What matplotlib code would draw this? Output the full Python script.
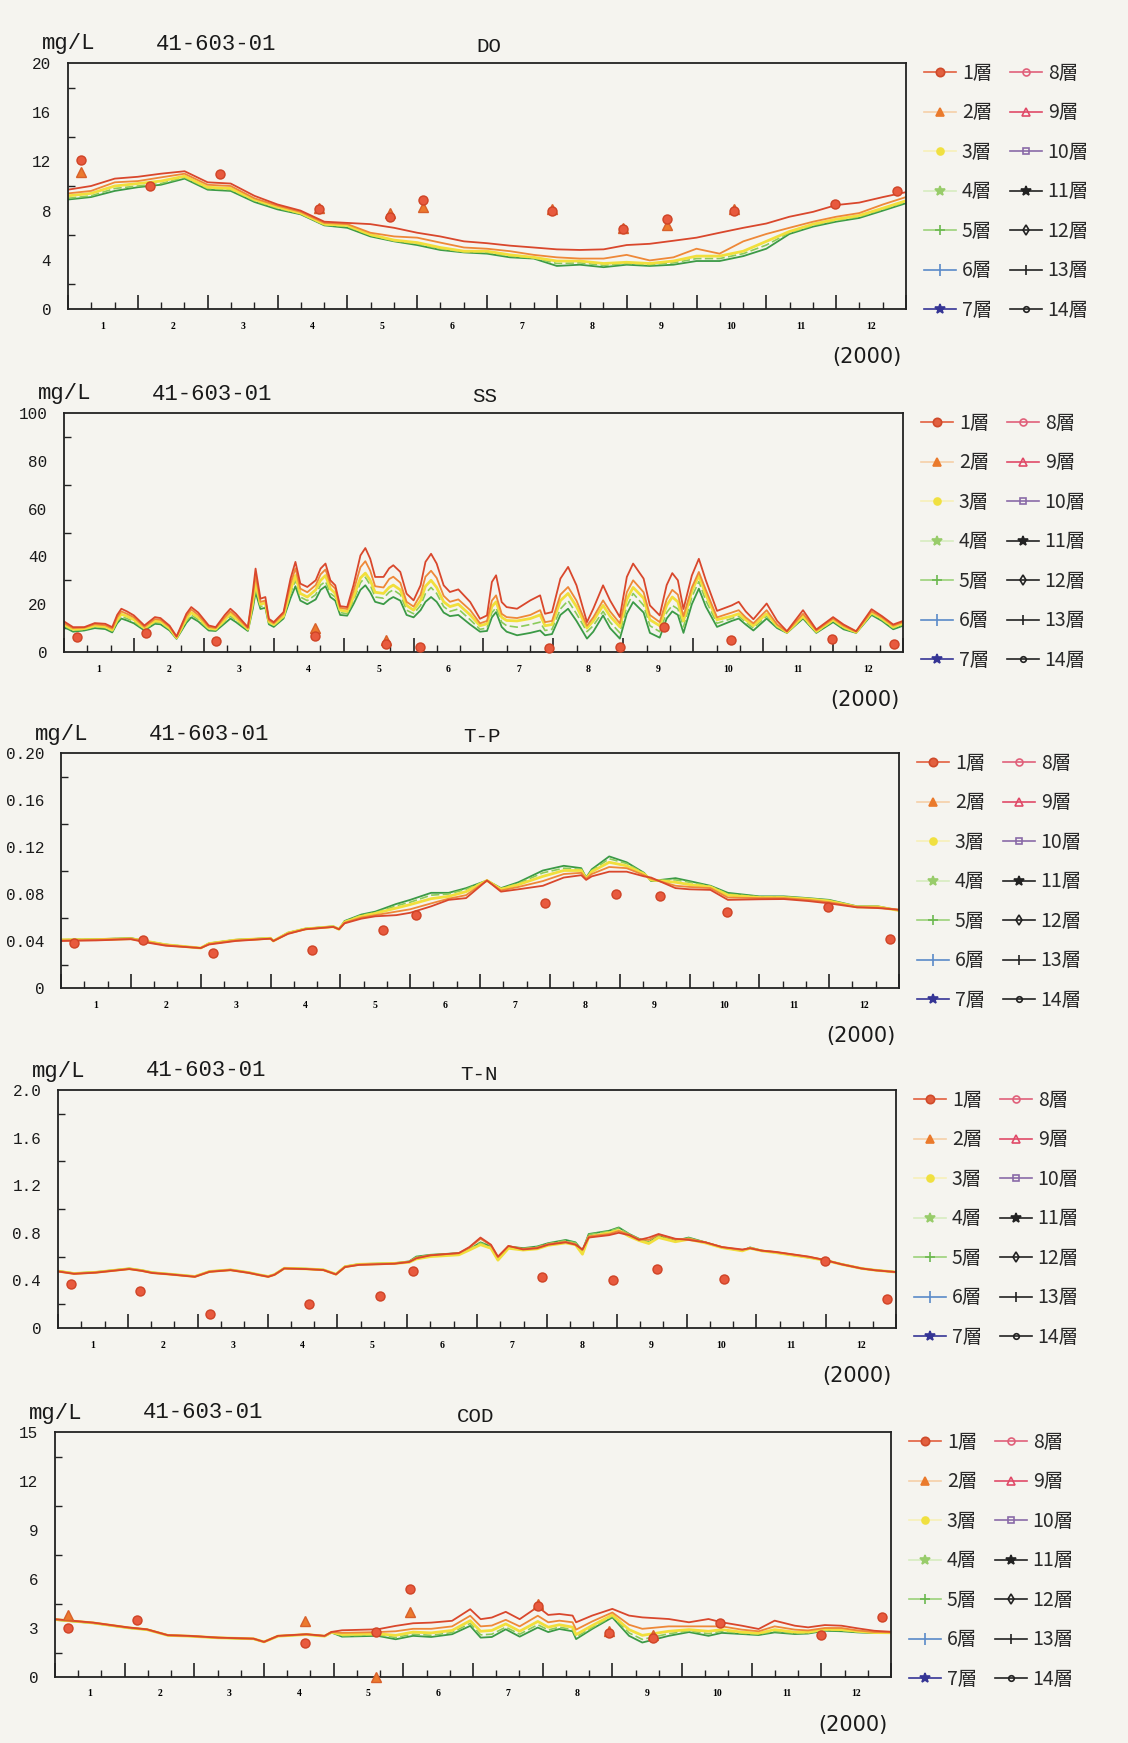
import numpy as np
import matplotlib
matplotlib.use('Agg')
import matplotlib.pyplot as plt
from matplotlib.lines import Line2D
from matplotlib.ticker import FixedLocator

nan = np.nan

MONTHS = [str(m) for m in range(1, 13)]
LAYERS = [f'{i}層' for i in range(1, 15)]
STATION = '41-603-01'

# sampling dates of the observations (month units, 0 = 1 Jan, 12 = 31 Dec)
OBS_X = [0.18, 1.17, 2.17, 3.59, 4.61, 5.09, 6.93, 7.95, 8.58, 9.54, 10.99, 11.87]

# ---- DO ----
DO_X = [0, 0.33, 0.67, 1.0, 1.33, 1.67, 2.0, 2.33, 2.67, 3.0, 3.33, 3.67, 4.0, 4.33,
        4.67, 5.0, 5.33, 5.67, 6.0, 6.33, 6.67, 7.0, 7.33, 7.67, 8.0, 8.33, 8.67, 9.0,
        9.33, 9.67, 10.0, 10.33, 10.67, 11.0, 11.33, 11.67, 12.0]
DO_L1 = [9.7, 10.0, 10.6, 10.75, 11.0, 11.2, 10.3, 10.2, 9.2, 8.5, 8.0, 7.1, 7.0, 6.9,
         6.6, 6.2, 5.9, 5.5, 5.35, 5.15, 5.0, 4.85, 4.8, 4.85, 5.2, 5.3, 5.55, 5.8,
         6.2, 6.6, 6.95, 7.5, 7.9, 8.45, 8.65, 9.1, 9.5]
DO_L2 = [9.4, 9.6, 10.3, 10.4, 10.7, 11.0, 10.1, 10.0, 9.0, 8.4, 7.9, 7.0, 6.9, 6.2,
         5.9, 5.8, 5.4, 5.0, 4.9, 4.7, 4.4, 4.2, 4.1, 4.1, 4.4, 3.95, 4.2, 4.9,
         4.5, 5.5, 6.1, 6.6, 7.1, 7.5, 7.8, 8.5, 9.1]
DO_L3 = [9.2, 9.4, 10.0, 10.2, 10.4, 10.8, 9.9, 9.8, 8.9, 8.3, 7.8, 6.9, 6.8, 6.05,
         5.6, 5.4, 5.0, 4.7, 4.7, 4.4, 4.2, 3.9, 3.9, 3.7, 3.8, 3.7, 3.9, 4.3,
         4.3, 4.7, 5.5, 6.3, 6.9, 7.3, 7.6, 8.2, 8.8]
DO_L4 = [9.0, 9.2, 9.8, 10.0, 10.2, 10.7, 9.8, 9.7, 8.8, 8.2, 7.75, 6.85, 6.7, 6.0,
         5.55, 5.3, 4.9, 4.65, 4.6, 4.3, 4.15, 3.7, 3.75, 3.55, 3.7, 3.6, 3.75, 4.1,
         4.1, 4.5, 5.2, 6.2, 6.8, 7.2, 7.5, 8.1, 8.7]
DO_L5 = [8.9, 9.1, 9.6, 9.9, 10.1, 10.6, 9.7, 9.6, 8.7, 8.1, 7.7, 6.8, 6.6, 5.9,
         5.5, 5.2, 4.8, 4.6, 4.5, 4.2, 4.1, 3.5, 3.6, 3.4, 3.6, 3.5, 3.6, 3.9,
         3.9, 4.3, 4.9, 6.1, 6.7, 7.1, 7.4, 8.0, 8.6]
DO_OBS1 = [12.1, 10.0, 11.0, 8.1, 7.5, 8.9, 8.0, 6.5, 7.3, 8.0, 8.5, 9.6]
DO_OBS2 = [11.1, nan, nan, 8.2, 7.8, 8.3, 8.1, 6.6, 6.8, 8.1, nan, nan]
DO_YTICKS = ['0', '4', '8', '12', '16', '20']

# ---- SS ----
SS_X = [0.00, 0.13, 0.29, 0.44, 0.59, 0.69, 0.76, 0.82, 0.90, 1.00,
        1.15, 1.30, 1.38, 1.51, 1.61, 1.75, 1.82, 1.92, 2.07, 2.17,
        2.30, 2.38, 2.46, 2.55, 2.63, 2.70, 2.74, 2.81, 2.88, 2.93,
        3.00, 3.14, 3.24, 3.31, 3.38, 3.48, 3.60, 3.67, 3.74, 3.81,
        3.88, 3.95, 4.05, 4.14, 4.24, 4.31, 4.38, 4.45, 4.57, 4.65,
        4.71, 4.81, 4.90, 5.00, 5.10, 5.17, 5.25, 5.33, 5.43, 5.52,
        5.64, 5.81, 5.95, 6.05, 6.12, 6.18, 6.26, 6.33, 6.48, 6.67,
        6.81, 6.88, 6.98, 7.10, 7.21, 7.33, 7.48, 7.57, 7.71, 7.81,
        7.95, 8.05, 8.14, 8.29, 8.38, 8.52, 8.62, 8.70, 8.78, 8.86,
        8.98, 9.08, 9.18, 9.34, 9.55, 9.65, 9.75, 9.86, 10.05, 10.20,
        10.34, 10.57, 10.76, 11.00, 11.15, 11.33, 11.55, 11.70, 11.86, 12.00]
SS_L1 = [12.8, 10.4, 10.4, 12.1, 11.8, 10.4, 15.5, 18.1, 17.0, 15.3,
         11.1, 14.6, 14.2, 11.0, 6.5, 16.0, 18.8, 16.5, 11.1, 10.4,
         15.5, 18.1, 16.0, 13.0, 10.4, 25.0, 34.9, 22.3, 23.0, 13.9,
         12.5, 16.7, 30.7, 37.7, 28.6, 27.2, 30.0, 34.9, 37.0, 30.0,
         27.9, 19.2, 18.8, 27.9, 40.4, 43.5, 39.0, 31.4, 31.4, 35.0,
         36.3, 33.5, 24.4, 21.6, 27.9, 37.7, 41.1, 37.0, 27.9, 25.1,
         26.2, 20.9, 13.9, 15.3, 29.3, 32.1, 20.9, 18.8, 18.1, 21.6,
         23.7, 16.0, 16.7, 30.7, 35.6, 27.9, 12.5, 18.1, 27.9, 21.6,
         14.6, 31.4, 37.0, 30.7, 19.5, 15.3, 28.0, 33.0, 30.0, 18.0,
         32.0, 39.0, 30.0, 17.2, 19.5, 21.0, 17.0, 13.7, 20.3, 13.0,
         8.7, 17.5, 9.4, 14.6, 11.5, 8.7, 17.9, 15.0, 11.5, 13.0]
SS_L2 = [12.0, 10.0, 10.2, 11.6, 11.2, 9.8, 14.5, 17.0, 16.0, 14.5,
         10.5, 13.8, 13.5, 10.5, 6.3, 15.0, 17.8, 15.5, 10.5, 10.0,
         14.5, 17.0, 15.0, 12.3, 10.0, 23.0, 32.0, 21.0, 21.5, 13.3,
         12.0, 16.0, 28.5, 35.0, 26.5, 25.0, 28.0, 32.5, 34.5, 28.5,
         26.5, 18.5, 18.0, 25.5, 35.5, 38.0, 34.0, 27.5, 27.0, 30.5,
         31.5, 29.0, 21.0, 19.0, 24.0, 31.5, 34.0, 31.0, 23.5, 21.0,
         22.0, 17.5, 12.0, 13.0, 21.5, 23.7, 16.0, 14.6, 14.2, 15.5,
         17.5, 12.5, 13.0, 24.0, 27.2, 21.5, 11.0, 14.5, 21.6, 17.0,
         12.0, 25.0, 30.0, 25.0, 15.5, 12.5, 22.0, 26.0, 24.0, 15.0,
         27.0, 33.5, 26.0, 14.5, 16.5, 17.5, 14.5, 12.0, 17.5, 11.5,
         8.5, 16.0, 9.0, 14.0, 11.0, 8.5, 17.0, 14.5, 11.0, 12.5]
SS_L3 = [11.5, 9.5, 9.8, 11.0, 10.6, 9.2, 13.5, 15.8, 15.0, 13.5,
         10.0, 13.0, 12.8, 10.0, 6.0, 14.0, 16.5, 14.5, 10.0, 9.6,
         13.5, 16.0, 14.0, 11.8, 9.6, 21.0, 29.0, 20.0, 20.5, 12.8,
         11.5, 15.0, 26.0, 32.0, 24.5, 23.0, 26.0, 30.0, 32.0, 26.5,
         24.5, 17.5, 17.0, 23.0, 31.0, 33.0, 30.0, 25.0, 24.5, 27.0,
         28.0, 26.0, 19.5, 17.5, 21.5, 27.5, 30.0, 27.0, 21.0, 19.0,
         20.0, 15.5, 11.0, 11.8, 19.0, 21.0, 14.5, 13.2, 13.0, 14.0,
         15.5, 11.0, 11.5, 21.5, 24.5, 19.0, 10.0, 13.0, 19.5, 15.0,
         10.5, 22.0, 27.0, 22.5, 13.5, 11.0, 19.5, 23.0, 21.0, 13.0,
         25.5, 32.0, 24.0, 13.5, 15.0, 16.0, 13.5, 11.0, 16.0, 11.0,
         8.3, 15.0, 8.6, 13.5, 10.5, 8.3, 16.5, 14.0, 10.5, 12.0]
SS_L4 = [11.0, 9.0, 9.4, 10.6, 10.2, 8.8, 12.8, 14.8, 14.0, 12.8,
         9.4, 12.4, 12.2, 9.5, 5.8, 13.0, 15.5, 13.5, 9.5, 9.2,
         12.8, 15.0, 13.2, 11.2, 9.2, 19.5, 27.0, 19.0, 19.5, 12.2,
         11.0, 14.5, 24.5, 30.0, 23.0, 21.5, 24.0, 28.0, 29.5, 24.5,
         23.0, 16.5, 16.0, 21.5, 29.0, 31.3, 28.0, 23.0, 22.5, 25.0,
         26.0, 24.0, 17.5, 16.0, 19.5, 24.5, 27.0, 24.5, 19.0, 17.0,
         18.0, 13.5, 9.5, 10.0, 16.5, 18.5, 12.5, 11.0, 10.4, 11.5,
         12.5, 9.0, 9.5, 18.0, 21.5, 16.0, 8.5, 11.0, 17.0, 12.5,
         8.0, 19.0, 24.5, 19.5, 11.0, 8.5, 16.5, 19.5, 18.0, 10.5,
         23.0, 29.5, 21.5, 12.0, 14.0, 15.0, 12.5, 10.0, 15.0, 10.5,
         8.1, 14.5, 8.3, 13.0, 10.0, 8.1, 16.0, 13.5, 10.0, 11.5]
SS_L5 = [10.5, 8.5, 9.0, 10.0, 9.6, 8.2, 12.0, 14.0, 13.2, 12.0,
         9.0, 11.8, 11.6, 9.0, 5.5, 12.2, 14.5, 12.8, 9.0, 8.8,
         12.0, 14.0, 12.5, 10.5, 8.8, 18.0, 25.0, 18.0, 18.5, 11.6,
         10.5, 14.0, 22.5, 27.5, 21.5, 20.0, 22.0, 26.0, 27.5, 23.0,
         21.5, 15.5, 15.2, 20.0, 26.0, 27.9, 25.0, 21.0, 20.0, 22.0,
         23.0, 21.5, 15.5, 14.5, 17.5, 21.0, 23.0, 21.0, 16.5, 15.0,
         15.5, 11.5, 8.5, 8.8, 14.5, 16.7, 10.5, 8.5, 7.0, 8.0,
         9.0, 7.0, 7.5, 15.5, 18.1, 13.0, 5.6, 8.5, 15.3, 10.0,
         5.6, 16.0, 20.9, 16.5, 8.0, 6.0, 14.0, 17.0, 15.5, 8.0,
         20.0, 26.5, 19.0, 10.5, 13.0, 14.0, 11.5, 9.0, 14.0, 10.0,
         8.0, 14.0, 8.0, 12.5, 9.5, 8.0, 15.5, 13.0, 9.5, 11.0]
SS_OBS1 = [6.2, 7.9, 4.6, 6.5, 3.2, 2.2, 1.8, 2.0, 10.5, 5.0, 5.5, 3.5]
SS_OBS2 = [nan, nan, nan, 10.0, 4.9, nan, nan, nan, nan, nan, nan, nan]
SS_YTICKS = ['0', '20', '40', '60', '80', '100']

# ---- T-P ----
TP_X = [0, 0.5, 1.0, 1.2, 1.5, 2.0, 2.12, 2.5, 3.0, 3.04, 3.25, 3.5, 3.9, 3.98, 4.06,
        4.3, 4.5, 4.8, 5.0, 5.3, 5.55, 5.8, 6.1, 6.3, 6.55, 6.9, 7.2, 7.45, 7.52, 7.6,
        7.85, 8.1, 8.35, 8.45, 8.8, 9.0, 9.3, 9.55, 10.0, 10.35, 10.7, 11.0, 11.4,
        11.7, 12.0]
TP_L1 = [0.040, 0.0405, 0.0415, 0.039, 0.036, 0.034, 0.037, 0.040, 0.042, 0.040,
         0.046, 0.050, 0.052, 0.050, 0.055, 0.059, 0.061, 0.062, 0.064, 0.0695,
         0.075, 0.0765, 0.0915, 0.082, 0.084, 0.087, 0.094, 0.096, 0.092, 0.095,
         0.099, 0.099, 0.095, 0.094, 0.085, 0.084, 0.0835, 0.075, 0.0755, 0.0757,
         0.074, 0.072, 0.0686, 0.068, 0.0666]
TP_L2 = [0.0405, 0.041, 0.042, 0.0395, 0.0365, 0.034, 0.0375, 0.0405, 0.042, 0.040,
         0.0465, 0.050, 0.052, 0.050, 0.0555, 0.060, 0.062, 0.065, 0.067, 0.072,
         0.076, 0.079, 0.0915, 0.083, 0.086, 0.091, 0.097, 0.098, 0.093, 0.097,
         0.103, 0.102, 0.096, 0.093, 0.087, 0.086, 0.085, 0.077, 0.0765, 0.0765,
         0.075, 0.073, 0.069, 0.0685, 0.0666]
TP_L3 = [0.041, 0.0412, 0.042, 0.040, 0.0368, 0.034, 0.0378, 0.0408, 0.0423, 0.040,
         0.0468, 0.0503, 0.0522, 0.050, 0.056, 0.061, 0.0635, 0.068, 0.071, 0.076,
         0.078, 0.082, 0.0915, 0.084, 0.088, 0.095, 0.100, 0.100, 0.093, 0.099,
         0.107, 0.104, 0.097, 0.092, 0.090, 0.088, 0.086, 0.079, 0.077, 0.077,
         0.0757, 0.074, 0.069, 0.069, 0.066]
TP_L4 = [0.041, 0.0415, 0.0423, 0.040, 0.037, 0.034, 0.038, 0.041, 0.0425, 0.040,
         0.047, 0.0505, 0.0524, 0.050, 0.0565, 0.062, 0.064, 0.070, 0.073, 0.079,
         0.080, 0.084, 0.0915, 0.0845, 0.089, 0.098, 0.102, 0.101, 0.094, 0.100,
         0.110, 0.106, 0.0975, 0.0915, 0.092, 0.090, 0.0865, 0.080, 0.0775, 0.0775,
         0.076, 0.0745, 0.0692, 0.0692, 0.066]
TP_L5 = [0.041, 0.0415, 0.0425, 0.040, 0.037, 0.034, 0.038, 0.041, 0.0425, 0.040,
         0.047, 0.0505, 0.0525, 0.050, 0.057, 0.0625, 0.065, 0.0715, 0.075, 0.081,
         0.081, 0.085, 0.0915, 0.085, 0.090, 0.100, 0.104, 0.102, 0.094, 0.101,
         0.112, 0.107, 0.098, 0.091, 0.0935, 0.091, 0.087, 0.081, 0.078, 0.078,
         0.0765, 0.075, 0.0695, 0.0695, 0.066]
TP_OBS1 = [0.038, 0.041, 0.0295, 0.032, 0.049, 0.062, 0.072, 0.080, 0.078, 0.065, 0.069, 0.042]
TP_OBS2 = [nan] * 12
TP_YTICKS = ['0', '0.04', '0.08', '0.12', '0.16', '0.20']

# ---- T-N ----
TN_X = [0, 0.23, 0.54, 1.02, 1.2, 1.35, 1.61, 1.96, 2.17, 2.47, 2.73, 2.88, 3.01, 3.1,
        3.24, 3.55, 3.8, 3.98, 4.11, 4.31, 4.82, 5.03, 5.13, 5.33, 5.74, 5.89, 6.05,
        6.2, 6.3, 6.45, 6.66, 6.86, 7.02, 7.27, 7.41, 7.51, 7.6, 7.89, 8.03, 8.18,
        8.32, 8.46, 8.6, 8.84, 9.03, 9.27, 9.51, 9.8, 9.91, 10.08, 10.27, 10.75,
        10.99, 11.22, 11.51, 11.7, 12.0]
TN_L1 = [0.475, 0.455, 0.465, 0.495, 0.48, 0.462, 0.45, 0.43, 0.472, 0.486,
         0.463, 0.445, 0.43, 0.447, 0.50, 0.495, 0.487, 0.45, 0.512, 0.53,
         0.54, 0.555, 0.585, 0.61, 0.63, 0.68, 0.76, 0.70, 0.60, 0.69,
         0.66, 0.67, 0.70, 0.72, 0.70, 0.66, 0.76, 0.78, 0.80, 0.78,
         0.74, 0.76, 0.79, 0.75, 0.74, 0.72, 0.68, 0.66, 0.67, 0.65,
         0.64, 0.60, 0.57, 0.535, 0.50, 0.485, 0.47]
TN_L2 = [0.477, 0.457, 0.467, 0.497, 0.482, 0.464, 0.451, 0.432, 0.474, 0.488,
         0.465, 0.446, 0.432, 0.448, 0.501, 0.496, 0.488, 0.451, 0.514, 0.533,
         0.542, 0.557, 0.59, 0.612, 0.628, 0.675, 0.75, 0.695, 0.595, 0.688,
         0.665, 0.675, 0.705, 0.725, 0.705, 0.655, 0.77, 0.79, 0.815, 0.785,
         0.745, 0.74, 0.785, 0.745, 0.75, 0.72, 0.68, 0.655, 0.672, 0.65,
         0.638, 0.597, 0.57, 0.536, 0.50, 0.486, 0.47]
TN_L3 = [0.478, 0.458, 0.468, 0.498, 0.483, 0.465, 0.452, 0.433, 0.475, 0.489,
         0.466, 0.447, 0.433, 0.449, 0.502, 0.497, 0.489, 0.452, 0.515, 0.535,
         0.543, 0.552, 0.58, 0.60, 0.615, 0.655, 0.70, 0.67, 0.57, 0.67,
         0.655, 0.665, 0.695, 0.715, 0.70, 0.62, 0.765, 0.80, 0.82, 0.77,
         0.735, 0.71, 0.76, 0.725, 0.745, 0.715, 0.675, 0.648, 0.67, 0.648,
         0.634, 0.593, 0.568, 0.535, 0.50, 0.486, 0.47]
TN_L4 = [0.479, 0.459, 0.469, 0.499, 0.484, 0.466, 0.452, 0.433, 0.475, 0.489,
         0.466, 0.447, 0.433, 0.449, 0.502, 0.497, 0.489, 0.452, 0.516, 0.536,
         0.544, 0.558, 0.595, 0.613, 0.627, 0.66, 0.715, 0.68, 0.585, 0.68,
         0.668, 0.68, 0.71, 0.735, 0.715, 0.645, 0.785, 0.812, 0.84, 0.788,
         0.748, 0.718, 0.77, 0.73, 0.757, 0.718, 0.676, 0.649, 0.675, 0.649,
         0.634, 0.592, 0.569, 0.536, 0.50, 0.486, 0.47]
TN_L5 = [0.48, 0.46, 0.47, 0.50, 0.485, 0.467, 0.453, 0.434, 0.476, 0.49,
         0.467, 0.448, 0.434, 0.45, 0.503, 0.498, 0.49, 0.453, 0.517, 0.537,
         0.545, 0.56, 0.60, 0.615, 0.629, 0.66, 0.72, 0.685, 0.59, 0.685,
         0.671, 0.685, 0.713, 0.74, 0.72, 0.65, 0.79, 0.817, 0.845, 0.79,
         0.75, 0.72, 0.775, 0.733, 0.76, 0.72, 0.677, 0.65, 0.677, 0.65,
         0.635, 0.593, 0.57, 0.537, 0.50, 0.487, 0.47]
TN_OBS1 = [0.37, 0.31, 0.12, 0.20, 0.27, 0.48, 0.43, 0.40, 0.50, 0.41, 0.56, 0.24]
TN_OBS2 = [nan] * 12
TN_YTICKS = ['0', '0.4', '0.8', '1.2', '1.6', '2.0']

# ---- COD ----
COD_X = [0, 0.55, 1.06, 1.32, 1.62, 1.93, 2.34, 2.85, 3.0, 3.2, 3.61, 3.87, 3.97, 4.12,
         4.63, 4.89, 5.14, 5.4, 5.7, 5.96, 6.11, 6.27, 6.47, 6.67, 6.93, 7.08, 7.24,
         7.43, 7.48, 7.71, 8.0, 8.24, 8.43, 8.81, 9.1, 9.38, 9.57, 9.86, 10.1, 10.33,
         10.62, 10.81, 11.05, 11.29, 11.52, 11.76, 12.0]
COD_L1 = [3.54, 3.33, 3.03, 2.92, 2.56, 2.52, 2.41, 2.35, 2.15, 2.52,
          2.62, 2.52, 2.76, 2.86, 2.92, 3.13, 3.29, 3.33, 3.44, 4.15,
          3.54, 3.64, 3.99, 3.54, 4.3, 3.8, 3.86, 3.76, 3.35, 3.76,
          4.17, 3.76, 3.65, 3.55, 3.35, 3.55, 3.35, 3.14, 2.94, 3.45,
          3.14, 3.04, 3.18, 3.14, 2.98, 2.83, 2.77]
COD_L2 = [3.53, 3.32, 3.02, 2.91, 2.56, 2.51, 2.41, 2.34, 2.15, 2.51,
          2.61, 2.51, 2.75, 2.7, 2.75, 2.8, 2.95, 2.95, 3.1, 3.75,
          3.1, 3.15, 3.5, 3.1, 3.75, 3.35, 3.45, 3.35, 2.9, 3.4,
          3.95, 3.2, 2.95, 3.1, 3.1, 3.1, 3.1, 2.9, 2.8, 3.1,
          2.9, 2.85, 3.0, 3.0, 2.85, 2.75, 2.74]
COD_L3 = [3.52, 3.31, 3.01, 2.9, 2.55, 2.5, 2.4, 2.34, 2.15, 2.5,
          2.6, 2.5, 2.74, 2.6, 2.65, 2.55, 2.75, 2.7, 2.85, 3.45,
          2.8, 2.85, 3.25, 2.8, 3.4, 3.05, 3.2, 3.05, 2.6, 3.15,
          3.8, 2.9, 2.55, 2.8, 2.9, 2.8, 2.9, 2.75, 2.68, 2.9,
          2.75, 2.75, 2.92, 2.9, 2.8, 2.72, 2.71]
COD_L4 = [3.51, 3.3, 3.0, 2.9, 2.55, 2.5, 2.4, 2.33, 2.15, 2.5,
          2.6, 2.5, 2.73, 2.52, 2.58, 2.42, 2.62, 2.55, 2.72, 3.28,
          2.58, 2.62, 3.05, 2.62, 3.2, 2.88, 3.05, 2.9, 2.45, 3.02,
          3.72, 2.7, 2.3, 2.65, 2.82, 2.65, 2.8, 2.68, 2.62, 2.8,
          2.68, 2.7, 2.87, 2.85, 2.76, 2.7, 2.7]
COD_L5 = [3.5, 3.3, 3.0, 2.9, 2.55, 2.5, 2.4, 2.33, 2.15, 2.5,
          2.6, 2.5, 2.72, 2.47, 2.52, 2.31, 2.52, 2.45, 2.62, 3.13,
          2.41, 2.45, 2.92, 2.47, 3.03, 2.75, 2.94, 2.8, 2.32, 2.94,
          3.65, 2.52, 2.11, 2.52, 2.75, 2.52, 2.7, 2.63, 2.57, 2.73,
          2.63, 2.66, 2.83, 2.8, 2.73, 2.69, 2.69]
COD_OBS1 = [3.0, 3.5, nan, 2.07, 2.78, 5.4, 4.35, 2.7, 2.4, 3.3, 2.55, 3.7]
COD_OBS2 = [3.8, nan, nan, 3.45, 0.0, 3.95, 4.5, 2.8, 2.6, nan, nan, nan]
COD_YTICKS = ['0', '3', '6', '9', '12', '15']

# ---- layout (pixels of the 1128 x 1743 page: left, right, top, bottom of each box) ----
W, H = 1128, 1743
PANELS = [
    dict(name='DO', x=DO_X, lines=[DO_L1, DO_L2, DO_L3, DO_L4, DO_L5],
         obs1=DO_OBS1, obs2=DO_OBS2, ymax=20, yticks=DO_YTICKS, box=(68, 906, 63, 309)),
    dict(name='SS', x=SS_X, lines=[SS_L1, SS_L2, SS_L3, SS_L4, SS_L5],
         obs1=SS_OBS1, obs2=SS_OBS2, ymax=100, yticks=SS_YTICKS, box=(64, 903, 413, 652)),
    dict(name='T-P', x=TP_X, lines=[TP_L1, TP_L2, TP_L3, TP_L4, TP_L5],
         obs1=TP_OBS1, obs2=TP_OBS2, ymax=0.2, yticks=TP_YTICKS, box=(61, 899, 753, 988)),
    dict(name='T-N', x=TN_X, lines=[TN_L1, TN_L2, TN_L3, TN_L4, TN_L5],
         obs1=TN_OBS1, obs2=TN_OBS2, ymax=2.0, yticks=TN_YTICKS, box=(58, 896, 1090, 1328)),
    dict(name='COD', x=COD_X, lines=[COD_L1, COD_L2, COD_L3, COD_L4, COD_L5],
         obs1=COD_OBS1, obs2=COD_OBS2, ymax=15, yticks=COD_YTICKS, box=(55, 891, 1432, 1677)),
]

LINE_COLORS = ['#d9472c', '#ee8838', '#f1df3c', '#8acb5a', '#3b9a46']
LINE_STYLES = ['-', '-', '-', (0, (5, 2)), '-']
LINE_WIDTHS = [1.3, 1.3, 2.0, 1.2, 1.3]

# legend look: (line colour, marker, face, edge, size)
LEG_STYLE = [
    ('#e2603f', 'o', '#e2603f', '#cf4a2a', 6),
    ('#f5cfa8', '^', '#ea7a2c', '#ea7a2c', 6),
    ('#f7f0b8', 'o', '#f0e040', '#f0e040', 5),
    ('#d6ecbf', '*', '#98cc6a', '#98cc6a', 7),
    ('#9bd27a', '+', '#6cb850', '#6cb850', 7),
    ('#5a8ac8', '|', '#5a8ac8', '#5a8ac8', 8),
    ('#353595', '*', '#353595', '#353595', 7),
    ('#e0607a', 'o', 'none', '#e0607a', 5),
    ('#e04a68', '^', 'none', '#e04a68', 6),
    ('#8a6aa8', 's', 'none', '#8a6aa8', 5),
    ('#222222', '*', '#222222', '#222222', 7),
    ('#222222', 'd', 'none', '#222222', 5),
    ('#222222', '|', '#222222', '#222222', 7),
    ('#222222', 'o', 'none', '#222222', 4),
]

MONO = ['Liberation Mono', 'DejaVu Sans Mono']
CJK = ['Noto Sans CJK JP', 'DejaVu Sans']
PAPER = '#f5f4ef'

fig = plt.figure(figsize=(W / 100, H / 100), dpi=100, facecolor=PAPER)


def fx(px):
    return px / W


def fy(py):
    return 1 - py / H


handles = [Line2D([], [], color=lc, lw=1.2, marker=m, ms=ms, mfc=mf, mec=me, mew=1.2)
           for lc, m, mf, me, ms in LEG_STYLE]

for p in PANELS:
    l, r, t, b = p['box']
    ax = fig.add_axes([fx(l), fy(b), (r - l) / W, (b - t) / H])
    ax.set_facecolor('none')

    for ys, c, ls, lw in reversed(list(zip(p['lines'], LINE_COLORS, LINE_STYLES, LINE_WIDTHS))):
        ax.plot(p['x'], ys, color=c, ls=ls, lw=lw, solid_joinstyle='round')
    ax.plot(OBS_X, p['obs2'], ls='none', marker='^', ms=6.5, mfc='#ec7a2e', mec='#d8602a',
            clip_on=False, zorder=5)
    ax.plot(OBS_X, p['obs1'], ls='none', marker='o', ms=6.5, mfc='#e85a3e', mec='#cf4426',
            clip_on=False, zorder=6)

    ax.set_xlim(0, 12)
    ax.set_ylim(0, p['ymax'])

    # x: month boundaries (major), 10-day marks (minor), month names centred
    ax.set_xticks(range(13))
    ax.xaxis.set_minor_locator(FixedLocator([k + f for k in range(12) for f in (1 / 3, 2 / 3)]))
    ax.tick_params(axis='x', which='major', direction='in', length=10, width=1.2,
                   labelbottom=False, color='#222')
    ax.tick_params(axis='x', which='minor', direction='in', length=5, width=1.0, color='#222')
    sec = ax.secondary_xaxis('bottom')
    sec.set_xticks(np.arange(12) + 0.5, MONTHS)
    sec.tick_params(length=0, pad=9, labelsize=7)
    sec.spines['bottom'].set_visible(False)
    for lab in sec.get_xticklabels():
        lab.set_fontfamily('Liberation Serif')
        lab.set_fontweight('bold')

    yt = np.linspace(0, p['ymax'], 6)
    ax.set_yticks(yt, p['yticks'])
    ax.yaxis.set_minor_locator(FixedLocator((yt[:-1] + yt[1:]) / 2))
    ax.tick_params(axis='y', which='major', length=0, pad=12, labelsize=11.5,
                   labelcolor='#1a1a1a')
    ax.tick_params(axis='y', which='minor', direction='in', length=5, width=1.0, color='#222')
    for lab in ax.get_yticklabels():
        lab.set_fontfamily(MONO)

    for s in ax.spines.values():
        s.set_linewidth(1.3)
        s.set_color('#222')

    # headers
    fig.text(fx(l - 26), fy(t - 19), 'mg/L', ha='left', va='center', fontsize=16,
             family=MONO, color='#1a1a1a')
    fig.text(fx(l + 88), fy(t - 19), STATION, ha='left', va='center', fontsize=16,
             family=MONO, color='#1a1a1a')
    fig.text(fx(l + 421), fy(t - 16), p['name'], ha='center', va='center', fontsize=15,
             family=MONO, color='#1a1a1a')
    fig.text(fx(r - 4), fy(b + 48), '(2000)', ha='right', va='center', fontsize=15,
             family=['DejaVu Sans'], color='#1a1a1a')

    leg = ax.legend(handles, LAYERS, ncol=2, loc='upper left',
                    bbox_to_anchor=(fx(r + 18), fy(t)), bbox_transform=fig.transFigure,
                    frameon=False, borderpad=0, borderaxespad=0, handlelength=1.65,
                    handletextpad=0.3, columnspacing=0.9, labelspacing=0.95,
                    prop={'family': CJK, 'size': 14})
    for txt in leg.get_texts():
        txt.set_color('#2a2a2a')

fig.savefig('out.png', dpi=100, facecolor=PAPER)
